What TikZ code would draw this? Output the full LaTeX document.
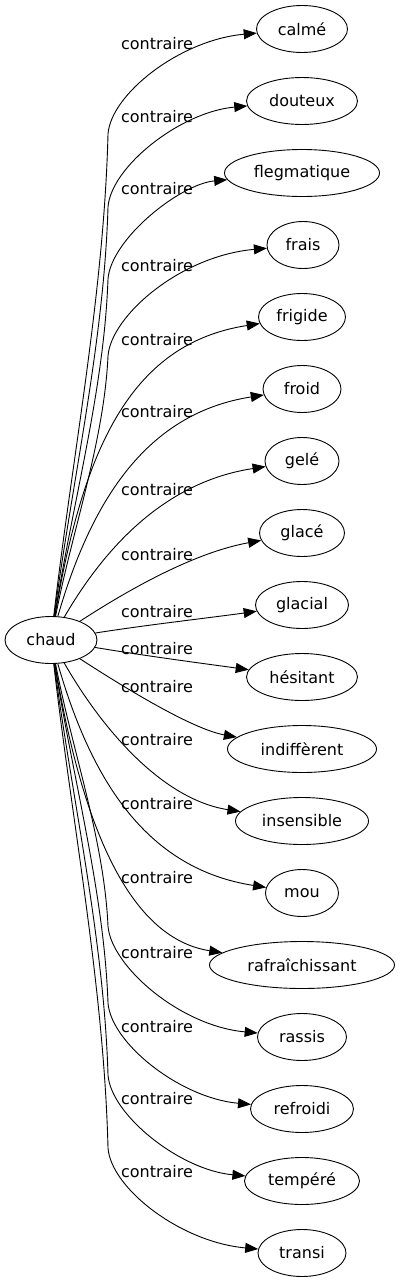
\documentclass[tikz,border=0pt]{standalone}
\usepackage{fontspec}
\setmainfont{DejaVu Sans}
\usetikzlibrary{arrows.meta,shapes.geometric}

\begin{document}
\begin{tikzpicture}[
    x=1pt, y=-1pt,
    font=\fontsize{16}{19}\selectfont,
    word/.style={
        ellipse,
        draw=black,
        line width=0.9pt,
        inner sep=0pt,
        minimum height=47pt
    },
    edge/.style={-{Triangle[length=13pt,width=10pt]}, draw=black, line width=0.9pt},
    lbl/.style={inner sep=0pt, text=black}
]
\useasboundingbox (0,0) rectangle (400,1283);

% Source word.
\node[word, minimum width=92pt] (chaud) at (51,640) {chaud};

% Opposites, one column on the right.
\node[word, minimum width=91pt] (calme) at (302,29) {calmé};
\node[word, minimum width=111pt] (douteux) at (302,101) {douteux};
\node[word, minimum width=155pt] (flegmatique) at (302,173) {flegmatique};
\node[word, minimum width=72pt] (frais) at (303,245) {frais};
\node[word, minimum width=87pt] (frigide) at (302,317) {frigide};
\node[word, minimum width=78pt] (froid) at (302,389) {froid};
\node[word, minimum width=74pt] (gele) at (302,461) {gelé};
\node[word, minimum width=85pt] (glace) at (302,533) {glacé};
\node[word, minimum width=93pt] (glacial) at (302,605) {glacial};
\node[word, minimum width=111pt] (hesitant) at (302,677) {hésitant};
\node[word, minimum width=149pt] (indifferent) at (302,749) {indiffèrent};
\node[word, minimum width=133pt] (insensible) at (302,821) {insensible};
\node[word, minimum width=73pt] (mou) at (302,893) {mou};
\node[word, minimum width=185pt] (rafraichissant) at (302,965) {rafraîchissant};
\node[word, minimum width=89pt] (rassis) at (302,1037) {rassis};
\node[word, minimum width=103pt] (refroidi) at (302,1109) {refroidi};
\node[word, minimum width=115pt] (tempere) at (302,1181) {tempéré};
\node[word, minimum width=88pt] (transi) at (302,1253) {transi};

% Edges above the source: long ones rise, then bend under the label.
\draw[edge] (chaud) .. controls (72,458) and (104,293) .. (108,134) .. controls (111,94) and (180,40) .. (calme);
\draw[edge] (chaud) .. controls (72,482) and (104,342) .. (108,207) .. controls (111,167) and (180,112) .. (douteux);
\draw[edge] (chaud) .. controls (72,505) and (104,391) .. (108,279) .. controls (111,239) and (180,184) .. (flegmatique);
\draw[edge] (chaud) .. controls (72,531) and (104,442) .. (108,356) .. controls (111,316) and (180,256) .. (frais);
\draw[edge] (chaud) .. controls (84,442) and (134,343) .. (frigide);
\draw[edge] (chaud) .. controls (92,498) and (148,413) .. (froid);
\draw[edge] (chaud) .. controls (105,547) and (165,482) .. (gele);
\draw[edge] (chaud) .. controls (125,592) and (192,553) .. (glace);
\draw[edge] (chaud) .. controls (146,625) and (208,618) .. (glacial);

% Edges below the source, mirrored.
\draw[edge] (chaud) .. controls (146,656) and (207,664) .. (hesitant);
\draw[edge] (chaud) .. controls (125,688) and (192,729) .. (indifferent);
\draw[edge] (chaud) .. controls (105,734) and (165,800) .. (insensible);
\draw[edge] (chaud) .. controls (92,783) and (148,869) .. (mou);
\draw[edge] (chaud) .. controls (84,839) and (134,939) .. (rafraichissant);
\draw[edge] (chaud) .. controls (72,750) and (104,839) .. (108,926) .. controls (111,966) and (180,1026) .. (rassis);
\draw[edge] (chaud) .. controls (72,775) and (104,891) .. (108,1003) .. controls (111,1043) and (180,1098) .. (refroidi);
\draw[edge] (chaud) .. controls (72,799) and (104,939) .. (108,1075) .. controls (111,1115) and (180,1170) .. (tempere);
\draw[edge] (chaud) .. controls (72,823) and (104,988) .. (108,1148) .. controls (111,1188) and (180,1242) .. (transi);

% Edge labels.
\node[lbl] (lCalme) at (157,44) {contraire};
\node[lbl] (lDouteux) at (157,117) {contraire};
\node[lbl] (lFlegmatique) at (157,189) {contraire};
\node[lbl] (lFrais) at (157,266) {contraire};
\node[lbl] (lFrigide) at (157,340) {contraire};
\node[lbl] (lFroid) at (157,412) {contraire};
\node[lbl] (lGele) at (157,490) {contraire};
\node[lbl] (lGlace) at (157,555) {contraire};
\node[lbl] (lGlacial) at (157,612) {contraire};
\node[lbl] (lHesitant) at (157,649) {contraire};
\node[lbl] (lIndifferent) at (157,687) {contraire};
\node[lbl] (lInsensible) at (157,740) {contraire};
\node[lbl] (lMou) at (157,804) {contraire};
\node[lbl] (lRafraichissant) at (157,878) {contraire};
\node[lbl] (lRassis) at (157,953) {contraire};
\node[lbl] (lRefroidi) at (157,1027) {contraire};
\node[lbl] (lTempere) at (157,1099) {contraire};
\node[lbl] (lTransi) at (157,1172) {contraire};

\end{tikzpicture}
\end{document}
